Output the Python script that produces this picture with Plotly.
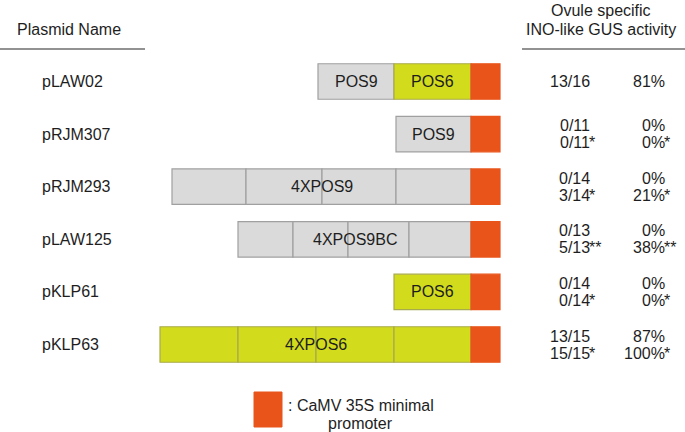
import plotly.graph_objects as go

# ---------------- data ----------------
plasmids = ["pLAW02", "pRJM307", "pRJM293", "pLAW125", "pKLP61", "pKLP63"]
segment_kinds = [["POS9", "POS6"], ["POS9"], ["POS9"] * 4, ["POS9"] * 4, ["POS6"], ["POS6"] * 4]
segment_lengths = [[76, 77], [75], [74, 76, 74, 75], [55, 55, 61, 62], [77], [78, 78, 78, 77]]
box_labels = [["POS9", "POS6"], ["POS9"], ["4XPOS9"], ["4XPOS9BC"], ["POS6"], ["4XPOS6"]]
promoter_length = 29

fractions_1 = ["13/16", "0/11", "0/14", "0/13", "0/14", "13/15"]
fractions_2 = ["", "0/11", "3/14", "5/13", "0/14", "15/15"]
stars_2 = ["", "*", "*", "**", "*", "*"]
percent_1 = ["81%", "0%", "0%", "0%", "0%", "87%"]
percent_2 = ["", "0%", "21%", "38%", "0%", "100%"]

# ---------------- styling ----------------
W, H = 685, 432
FILL = {"POS9": "#dadada", "POS6": "#d3dc1c", "promoter": "#e9541b"}
EDGE = {"POS9": "#a0a0a0", "POS6": "#a8ab4c", "promoter": "#e9541b"}
FONT = "Liberation Sans, Arial, Helvetica, sans-serif"
TXT = "#1e1e1e"
ROW0_PX, ROW_STEP = 81.5, 52.6
PROMOTER_PX = 471  # pixel where promoter starts (x = 0)


def px_x(p):
    return p / W


def px_y(p):
    return 1 - p / H


def font(size=16):
    return dict(size=size, color=TXT, family=FONT)


ys, xs, bases, fills, edges = [], [], [], [], []
annotations = []
for r, name in enumerate(plasmids):
    lens = segment_lengths[r]
    kinds = segment_kinds[r]
    start = -sum(lens)
    seg_bounds = []
    for k, L in zip(kinds, lens):
        ys.append(r); xs.append(L); bases.append(start)
        fills.append(FILL[k]); edges.append(EDGE[k])
        seg_bounds.append((start, start + L))
        start += L
    ys.append(r); xs.append(promoter_length); bases.append(0)
    fills.append(FILL["promoter"]); edges.append(EDGE["promoter"])

    labels = box_labels[r]
    if len(labels) == len(lens):
        centers = [(a + b) / 2 for a, b in seg_bounds]
    else:
        centers = [(seg_bounds[0][0] + seg_bounds[-1][1]) / 2]
    for lab, c in zip(labels, centers):
        annotations.append(dict(x=c, y=r, xref="x", yref="y", text=lab, showarrow=False,
                                xanchor="center", yanchor="middle", font=font()))

    # plasmid name
    annotations.append(dict(x=px_x(40), y=r, xref="paper", yref="y", text=name,
                            xanchor="left", yanchor="middle", showarrow=False, font=font()))

    # results columns
    off = 8.5 / ROW_STEP
    if fractions_2[r]:
        lines = [(fractions_1[r], "", percent_1[r], "", r - off),
                 (fractions_2[r], stars_2[r], percent_2[r], stars_2[r], r + off)]
    else:
        lines = [(fractions_1[r], "", percent_1[r], "", r)]
    common = dict(xref="paper", yref="y", showarrow=False, borderpad=0, borderwidth=0,
                  yanchor="middle", font=font())
    for fr, fs, pc, ps, yy in lines:
        annotations.append(dict(x=px_x(590), y=yy, text=fr, xanchor="right", **common))
        annotations.append(dict(x=px_x(665), y=yy, text=pc, xanchor="right", **common))
        if fs:
            annotations.append(dict(x=px_x(589), y=yy, text=fs, xanchor="left", **common))
        if ps:
            annotations.append(dict(x=px_x(664), y=yy, text=ps, xanchor="left", **common))

# headers
for txt, x, y in [("Plasmid Name", 69, 30), ("Ovule specific", 601, 11),
                  ("INO-like GUS activity", 601, 30)]:
    annotations.append(dict(x=px_x(x), y=px_y(y), xref="paper", yref="paper", text=txt,
                            xanchor="center", yanchor="middle", showarrow=False,
                            font=font()))

# legend text
for txt, y in [(": CaMV 35S minimal", 405), ("promoter", 423)]:
    annotations.append(dict(x=px_x(361), y=px_y(y), xref="paper", yref="paper", text=txt,
                            xanchor="center", yanchor="middle", showarrow=False,
                            font=font()))

shapes = [
    dict(type="line", xref="paper", yref="paper", x0=px_x(0), x1=px_x(145),
         y0=px_y(49), y1=px_y(49), line=dict(color="#6e6e6e", width=1.3)),
    dict(type="line", xref="paper", yref="paper", x0=px_x(522), x1=px_x(685),
         y0=px_y(49), y1=px_y(49), line=dict(color="#6e6e6e", width=1.3)),
    dict(type="rect", xref="paper", yref="paper", x0=px_x(254), x1=px_x(282),
         y0=px_y(392), y1=px_y(427), fillcolor=FILL["promoter"],
         line=dict(color=FILL["promoter"], width=1)),
]

fig = go.Figure(go.Bar(y=ys, x=xs, base=bases, orientation="h", width=35.5 / ROW_STEP,
                       marker=dict(color=fills, line=dict(color=edges, width=1.2)),
                       hoverinfo="skip"))

fig.update_layout(
    width=W, height=H, margin=dict(l=0, r=0, t=0, b=0),
    paper_bgcolor="white", plot_bgcolor="white", barmode="overlay", showlegend=False,
    xaxis=dict(range=[-PROMOTER_PX, W - PROMOTER_PX], visible=False, fixedrange=True),
    yaxis=dict(range=[(H - ROW0_PX) / ROW_STEP, -ROW0_PX / ROW_STEP], visible=False,
               fixedrange=True),
    annotations=annotations, shapes=shapes,
)

fig.write_html("out.html", config={"displayModeBar": False},
               post_script="document.body.style.margin='0px';document.body.style.overflow='hidden';")
